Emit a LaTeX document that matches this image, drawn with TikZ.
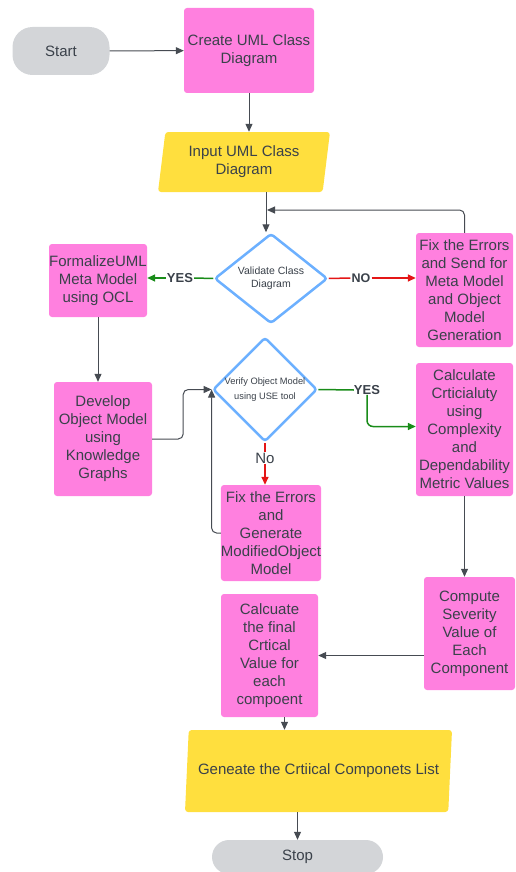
\documentclass[tikz,border=0pt]{standalone}
\usepackage{fontspec}
\setmainfont{Liberation Sans}
\usetikzlibrary{shapes.geometric,arrows.meta}
\definecolor{boxpink}{RGB}{255,128,223}
\definecolor{ioyellow}{RGB}{255,223,62}
\definecolor{termgray}{RGB}{211,213,216}
\definecolor{decblue}{RGB}{108,176,255}
\definecolor{txt}{RGB}{58,65,74}
\definecolor{line}{RGB}{70,75,82}
\definecolor{yesgreen}{RGB}{25,140,25}
\definecolor{nored}{RGB}{228,22,22}
\begin{document}
\begin{tikzpicture}[x=1pt,y=-1pt,
    every node/.style={text=txt, align=center, font=\fontsize{15}{18}\selectfont},
    proc/.style={fill=boxpink, rounded corners=3pt, inner sep=0pt},
    term/.style={fill=termgray, rounded corners=20pt, inner sep=0pt},
    io/.style={trapezium, trapezium stretches body, fill=ioyellow, rounded corners=3pt, inner sep=0pt},
    dec/.style={diamond, draw=decblue, line width=2.5pt, fill=white, rounded corners=3pt, inner sep=0pt},
    lbl/.style={fill=white, inner sep=1pt, font=\bfseries\fontsize{13}{15}\selectfont},
    arr/.style={draw=line, line width=1pt, -{Triangle[length=8pt,width=7pt]}},
    grn/.style={draw=yesgreen, line width=1.5pt},
    rd/.style={draw=nored, line width=1.5pt}]
    \useasboundingbox (0,0) rectangle (515,872);

    \node[term, minimum width=97, minimum height=48] (1) at (61,51) {Start};
    \node[proc, minimum width=130, minimum height=85] (2) at (249,50.5) {Create UML Class\\Diagram};
    \node[io, trapezium left angle=77, trapezium right angle=103, minimum width=172, minimum height=60] (3) at (244,162) {Input UML Class\\Diagram};
    \node[dec, minimum width=113, minimum height=90, font=\fontsize{10.5}{13}\selectfont] (4) at (271,278.5) {Validate Class\\Diagram};
    \node[proc, minimum width=98, minimum height=73] (5) at (98,280.5) {FormalizeUML\\Meta Model\\using OCL};
    \node[proc, minimum width=97, minimum height=114] (6) at (464.5,290) {Fix the Errors\\and Send for\\Meta Model\\and Object\\Model\\Generation};
    \node[proc, minimum width=98, minimum height=114] (7) at (103,439) {Develop\\Object Model\\using\\Knowledge\\Graphs};
    \node[dec, minimum width=101, minimum height=90, font=\fontsize{9.3}{15}\selectfont] (8) at (265,389.5) {Verify Object Model\\using USE tool};
    \node[proc, minimum width=96, minimum height=96] (9) at (271,533) {Fix the Errors\\and\\Generate\\ModifiedObject\\Model};
    \node[proc, minimum width=97, minimum height=133] (10) at (464.5,429.5) {Calculate\\Crticialuty\\using\\Complexity\\and\\Dependability\\Metric Values};
    \node[proc, minimum width=91, minimum height=113] (11) at (469.5,633.5) {Compute\\Severity\\Value of\\Each\\Component};
    \node[proc, minimum width=97, minimum height=123] (12) at (269.5,655.5) {Calcuate\\the final\\Crtical\\Value for\\each\\compoent};
    \node[io, trapezium left angle=75, trapezium right angle=105, minimum width=267, minimum height=82] (13) at (318.5,771) {Geneate the Crtiical Componets List};
    \node[term, minimum width=171, minimum height=34, rounded corners=17pt] (14) at (297.5,857) {Stop};

    % decision labels
    \node[lbl] (y1) at (180,278) {YES};
    \node[lbl, font=\bfseries\fontsize{12.5}{15}\selectfont] (n1) at (361,278) {NO};
    \node[lbl, inner sep=0pt] (y2) at (367,390) {YES};
    \node[fill=white, inner sep=1pt] (n2) at (265,458) {No};
    \coordinate (back) at (267,210);

    \draw[arr] (1) -- (2);
    \draw[arr] (2.south) -- (2.south |- 3.north);
    \draw[arr] ([xshift=-5]4.north |- 3.south) -- ([xshift=-5]4.north);
    \draw[arr, rounded corners=5pt] (6.north) |- (back);

    \draw[grn] (4.west) -- (y1.east);
    \draw[grn, -{Triangle[length=8pt,width=7pt]}] (y1.west) -- (y1.west -| 5.east);
    \draw[rd] (4.east) -- (n1.west);
    \draw[rd, -{Triangle[length=8pt,width=7pt]}] (n1.east) -- (n1.east -| 6.west);

    \draw[arr] (5.south) -- (5.south |- 7.north);
    \draw[arr, rounded corners=5pt] (7.east) -- ++(31,0) |- (8.west);

    \draw[grn] (8.east) -- (y2.west);
    \draw[grn, rounded corners=6pt, -{Triangle[length=8pt,width=7pt]}] (y2.south) |- ([yshift=3]10.west);
    \draw[rd] (8.south) -- (n2.north);
    \draw[rd, -{Triangle[length=8pt,width=7pt]}] (n2.south) -- (n2.south |- 9.north);
    \draw[arr, rounded corners=5pt] (9.west) -| (8.west);

    \draw[arr] (10.south) -- (10.south |- 11.north);
    \draw[arr] (12.east -| 11.west) -- (12.east);
    \draw[arr] ([xshift=15]12.south) -- ([xshift=15]12.south |- 13.north);
    \draw[arr] (14.north |- 13.south) -- (14.north);
\end{tikzpicture}
\end{document}
